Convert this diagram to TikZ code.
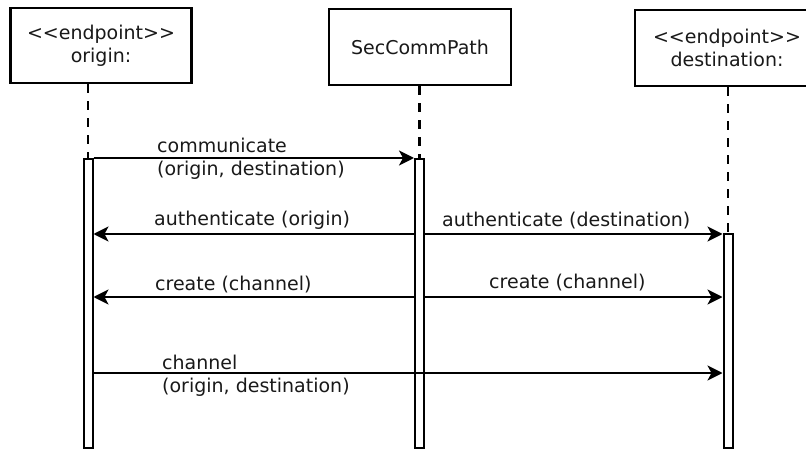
\documentclass[tikz,border=0pt]{standalone}
\usepackage{fontspec}
\setmainfont{DejaVu Sans}
\usetikzlibrary{arrows.meta}
\newcommand\lsym{<\kern0pt<}
\newcommand\gsym{>\kern0pt>}
\begin{document}
\begin{tikzpicture}[x=1pt,y=-1pt,
  every node/.style={font=\fontsize{19}{23}\selectfont, text=black!90},
  objbox/.style={draw=black, line width=2.2pt, fill=white, align=center, inner sep=0pt},
  actbar/.style={draw=black, line width=2pt, fill=white, minimum width=9pt, inner sep=0pt},
  lifeline/.style={line width=2.2pt, dash pattern=on 9pt off 8pt},
  msg/.style={line width=2pt, -{Stealth[length=15pt,width=15pt,inset=4pt]}},
  lbl/.style={anchor=base west, inner sep=0pt, align=left}]
\useasboundingbox (0,0) rectangle (806,449);
% object boxes
\node[objbox, minimum width=181pt, minimum height=75pt] (o) at (101,45.5) {\lsym endpoint\gsym\\origin:};
\node[objbox, minimum width=182pt, minimum height=76pt] (s) at (420,47) {SecCommPath};
\node[objbox, minimum width=184pt, minimum height=76pt] (d) at (727,48) {\lsym endpoint\gsym\\destination:};
% activation bars
\node[actbar, minimum height=289pt] (ob) at (88,303.5) {};
\node[actbar, minimum height=289pt] (sb) at (419.5,303.5) {};
\node[actbar, minimum height=214pt] (db) at (728,341) {};
% lifelines
\draw[lifeline] (ob.north |- o.south) -- (ob.north);
\draw[lifeline] (sb.north |- s.south) -- (sb.north);
\draw[lifeline] (db.north |- d.south) -- (db.north);
% message levels
\coordinate (m1) at (0,158);
\coordinate (m2) at (0,234);
\coordinate (m3) at (0,297);
\coordinate (m4) at (0,373);
% messages
\draw[msg] (ob.east |- m1) -- (sb.west |- m1);
\draw[msg] (sb.west |- m2) -- (ob.east |- m2);
\draw[msg] (sb.east |- m2) -- (db.west |- m2);
\draw[msg] (sb.west |- m3) -- (ob.east |- m3);
\draw[msg] (sb.east |- m3) -- (db.west |- m3);
\draw[msg] (ob.east |- m4) -- (db.west |- m4);
% labels
\node[lbl] (l1) at (157,176) {communicate\\(origin, destination)};
\node[lbl] (l2) at (154,226) {authenticate (origin)};
\node[lbl] (l3) at (442,227) {authenticate (destination)};
\node[lbl] (l4) at (155,290) {create (channel)};
\node[lbl] (l5) at (489,288) {create (channel)};
\node[lbl] (l6) at (162,392) {channel\\(origin, destination)};
\end{tikzpicture}
\end{document}
